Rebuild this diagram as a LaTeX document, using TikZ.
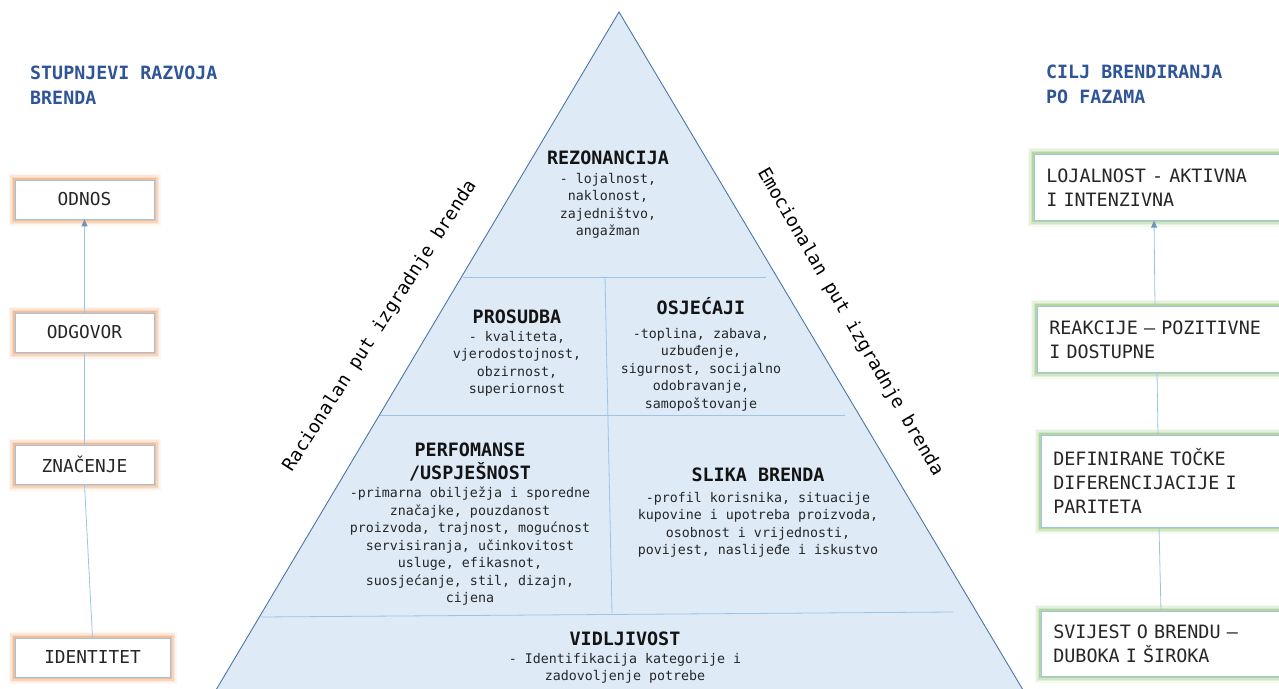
\documentclass[tikz,border=0pt]{standalone}
\usepackage{fontspec}
\setmainfont{DejaVu Sans Mono}
\setmonofont{DejaVu Sans Mono}
\usetikzlibrary{arrows.meta}

\definecolor{headblue}{HTML}{2F5597}
\definecolor{pyrfill}{HTML}{DEEBF7}
\definecolor{pyredge}{HTML}{4A77A8}
\definecolor{divline}{HTML}{9DC3E6}
\definecolor{gloworange}{HTML}{F4B183}
\definecolor{glowgreen}{HTML}{A9D18E}
\definecolor{tiptone}{HTML}{6F93BD}
\definecolor{bodytext}{HTML}{262626}

\tikzset{
  heading/.style={anchor=north west, inner sep=0pt, align=left, text=headblue, font=\fontsize{18.3}{25}\selectfont\bfseries},
  glowing/.style={
    preaction={draw=#1, line width=13pt, draw opacity=.12},
    preaction={draw=#1, line width=10pt, draw opacity=.2},
    preaction={draw=#1, line width=7pt, draw opacity=.35},
    preaction={draw=#1, line width=4pt, draw opacity=.7}},
  stage/.style={draw=divline, line width=0.6pt, fill=white, minimum width=139pt, minimum height=39pt, inner sep=0pt, text=bodytext, font=\fontsize{17.8}{22}\selectfont, glowing=gloworange},
  goal/.style={draw=divline, line width=0.6pt, fill=white, anchor=north west, text width=240pt, inner xsep=12pt, inner ysep=0pt, align=left, text=bodytext, font=\fontsize{18.4}{24}\selectfont, glowing=glowgreen},
  tiertitle/.style={inner sep=0pt, align=center, text=black!92, font=\fontsize{18.4}{23}\selectfont\bfseries},
  tierbody/.style={anchor=north, inner sep=0pt, align=center, text=bodytext, font=\fontsize{13.3}{17.5}\selectfont},
  divider/.style={draw=divline, line width=0.8pt},
  linkline/.style={draw=divline, line width=0.8pt},
  linkarrow/.style={linkline, -{Triangle[length=7pt, width=6pt, color=tiptone]}},
  sidelabel/.style={inner sep=0pt, text=black, font=\fontsize{18.3}{22}\selectfont}
}

\begin{document}
\begin{tikzpicture}[x=1pt, y=-1pt]
    \useasboundingbox (0,0) rectangle (1279,688);

    \fill [pyrfill] (619,12) -- (210,700) -- (1029,700) -- cycle;
    \draw [pyredge, line width=0.9pt] (210,700) -- (619,12) -- (1029,700);

    \draw [divider] (463,277) -- (766,277);
    \draw [divider] (605,277) -- (612,613);
    \draw [divider] (380,415) -- (845,415);
    \draw [divider] (260,617) -- (953,612);

    \node (leftheading) [heading] at (30,66) {STUPNJEVI RAZVOJA\\BRENDA};
    \node (rightheading) [heading] at (1046,65) {CILJ BRENDIRANJA\\PO FAZAMA};

    \node (odnos) [stage] at (84.5,199.5) {ODNOS};
    \node (odgovor) [stage] at (84.5,332.5) {ODGOVOR};
    \node (znacenje) [stage] at (84.5,464.5) {ZNAČENJE};
    \node (identitet) [stage, minimum width=155pt] at (92.5,657.5) {IDENTITET};

    \node (lojalnost) [goal, minimum height=66pt] at (1034,154) {LOJALNOST - AKTIVNA\\I INTENZIVNA};
    \node (reakcije) [goal, minimum height=66pt] at (1037,306) {REAKCIJE – POZITIVNE\\I DOSTUPNE};
    \node (definirane) [goal, minimum height=92pt] at (1041,435) {DEFINIRANE TOČKE\\DIFERENCIJACIJE I\\PARITETA};
    \node (svijest) [goal, minimum height=65pt] at (1041,611) {SVIJEST O BRENDU –\\DUBOKA I ŠIROKA};

    \node (rezonancija) [tiertitle, anchor=base] at (608,164) {REZONANCIJA};
    \node (rezonancijabody) [tierbody] at (608,173) {- lojalnost,\\naklonost,\\zajedništvo,\\angažman};

    \node (prosudba) [tiertitle, anchor=base] at (517,323) {PROSUDBA};
    \node (prosudbabody) [tierbody] at (517,331) {- kvaliteta,\\vjerodostojnost,\\obzirnost,\\superiornost};

    \node (osjecaji) [tiertitle, anchor=base] at (701,314) {OSJEĆAJI};
    \node (osjecajibody) [tierbody] at (701,328) {-toplina, zabava,\\uzbuđenje,\\sigurnost, socijalno\\odobravanje,\\samopoštovanje};

    \node (performanse) [tiertitle, anchor=north] at (470,443) {PERFOMANSE\\/USPJEŠNOST};
    \node (performansebody) [tierbody] at (470,487) {-primarna obilježja i sporedne\\značajke, pouzdanost\\proizvoda, trajnost, mogućnost\\servisiranja, učinkovitost\\usluge, efikasnot,\\suosjećanje, stil, dizajn,\\cijena};

    \node (slika) [tiertitle, anchor=base] at (758,481) {SLIKA BRENDA};
    \node (slikabody) [tierbody] at (758,492) {-profil korisnika, situacije\\kupovine i upotreba proizvoda,\\osobnost i vrijednosti,\\povijest, naslijeđe i iskustvo};

    \node (vidljivost) [tiertitle, anchor=base] at (625,645) {VIDLJIVOST};
    \node (vidljivostbody) [tierbody] at (625,653) {- Identifikacija kategorije i\\zadovoljenje potrebe};

    \node (racionalan) [sidelabel, rotate=57.3] at (380,326) {Racionalan put izgradnje brenda};
    \node (emocionalan) [sidelabel, rotate=-59.9] at (850,322) {Emocionalan put izgradnje brenda};

    \draw [linkline] (identitet.north) -- (znacenje.south);
    \draw [linkline] (znacenje.north) -- (odgovor.south);
    \draw [linkarrow] (odgovor.north) -- (odnos.south);

    \draw [linkline] ([xshift=120pt]svijest.north west) -- ([xshift=118pt]definirane.south west);
    \draw [linkline] ([xshift=117pt]definirane.north west) -- ([xshift=120pt]reakcije.south west);
    \draw [linkarrow] ([xshift=118pt]reakcije.north west) -- ([xshift=120pt]lojalnost.south west);
\end{tikzpicture}
\end{document}
